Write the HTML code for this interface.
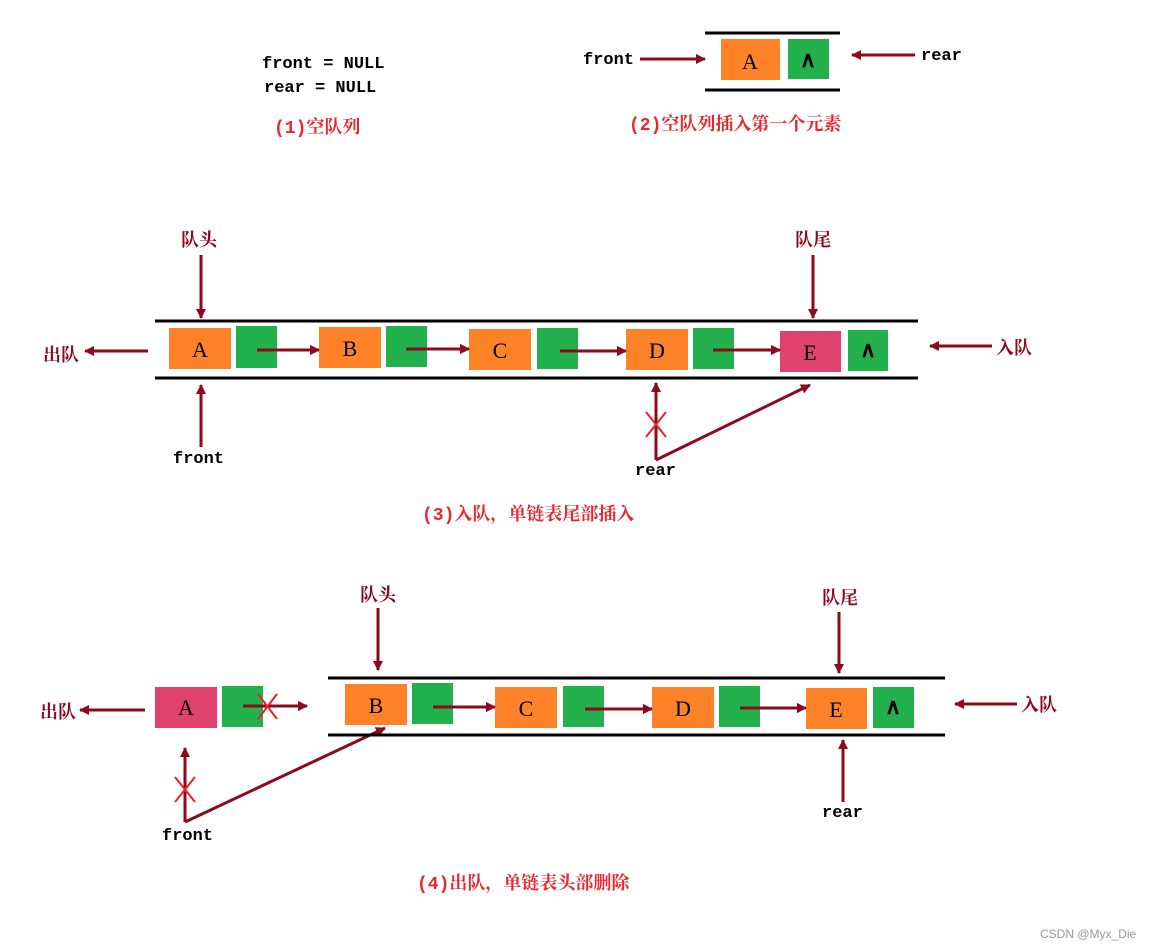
<!DOCTYPE html>
<html><head><meta charset="utf-8"><style>
html,body{margin:0;padding:0;background:#fff}
svg{display:block}
.m{font-family:"Liberation Mono",monospace;font-weight:bold;font-size:17px;fill:#000}
.c{font-family:"Liberation Serif","Noto Serif CJK SC",serif;font-weight:bold;font-size:18px;fill:#8b0a1e}
.cap{font-family:"Liberation Mono","Noto Serif CJK SC",serif;font-weight:bold;font-size:18px;fill:#e8262e}
.L{font-family:"Liberation Serif",serif;font-size:22px;fill:#000;text-anchor:middle}
</style></head><body>
<svg width="1150" height="950" viewBox="0 0 1150 950" xmlns="http://www.w3.org/2000/svg">
<defs>
<marker id="a" markerWidth="10" markerHeight="10" refX="9" refY="5" orient="auto" markerUnits="userSpaceOnUse" viewBox="0 0 10 10">
<path d="M0,0 L10,5 L0,10 z" fill="#8b0a1e"/></marker>
</defs>
<g stroke="#8b0a1e" stroke-width="3" fill="none" marker-end="url(#a)">
<!-- top right -->
<line x1="640" y1="59" x2="705" y2="59" transform=""/>
<line x1="915" y1="55" x2="852" y2="55"/>
<!-- section 3 -->
<line x1="201" y1="255" x2="201" y2="318"/>
<line x1="813" y1="255" x2="813" y2="318"/>
<line x1="148" y1="351" x2="85" y2="351"/>
<line x1="992" y1="346" x2="930" y2="346"/>
<line x1="201" y1="447" x2="201" y2="385"/>
<line x1="656" y1="460" x2="656" y2="383"/>
<line x1="656" y1="460" x2="810" y2="385"/>
<line x1="257" y1="350" x2="319" y2="350"/>
<line x1="406" y1="349" x2="469" y2="349"/>
<line x1="560" y1="351" x2="626" y2="351"/>
<line x1="713" y1="350" x2="780" y2="350"/>
<!-- section 4 -->
<line x1="378" y1="608" x2="378" y2="670"/>
<line x1="839" y1="612" x2="839" y2="673"/>
<line x1="145" y1="710" x2="80" y2="710"/>
<line x1="1017" y1="704" x2="955" y2="704"/>
<line x1="843" y1="802" x2="843" y2="740"/>
<line x1="185" y1="822" x2="185" y2="748"/>
<line x1="185" y1="822" x2="385" y2="728"/>
<line x1="243" y1="706" x2="307" y2="706"/>
<line x1="433" y1="707" x2="495" y2="707"/>
<line x1="585" y1="709" x2="652" y2="709"/>
<line x1="740" y1="708" x2="806" y2="708"/>
</g>
<g stroke="#000" stroke-width="3">
<line x1="705" y1="33" x2="840" y2="33"/><line x1="705" y1="90" x2="840" y2="90"/>
<line x1="155" y1="321" x2="918" y2="321"/><line x1="155" y1="378" x2="918" y2="378"/>
<line x1="328" y1="678" x2="945" y2="678"/><line x1="328" y1="735" x2="945" y2="735"/>
</g>
<!-- boxes -->
<g>
<rect x="721" y="39" width="59" height="41" fill="#fe8228"/><rect x="788" y="39" width="41" height="40" fill="#22b14c"/>
<rect x="169" y="328" width="62" height="41" fill="#fe8228"/><rect x="236" y="326" width="41" height="42" fill="#22b14c"/>
<rect x="319" y="327" width="62" height="41" fill="#fe8228"/><rect x="386" y="326" width="41" height="41" fill="#22b14c"/>
<rect x="469" y="329" width="62" height="41" fill="#fe8228"/><rect x="537" y="328" width="41" height="41" fill="#22b14c"/>
<rect x="626" y="329" width="62" height="41" fill="#fe8228"/><rect x="693" y="328" width="41" height="41" fill="#22b14c"/>
<rect x="780" y="331" width="61" height="41" fill="#e0426f"/><rect x="848" y="330" width="40" height="41" fill="#22b14c"/>
<rect x="155" y="687" width="62" height="41" fill="#e0426f"/><rect x="222" y="686" width="41" height="41" fill="#22b14c"/>
<rect x="345" y="684" width="62" height="41" fill="#fe8228"/><rect x="412" y="683" width="41" height="41" fill="#22b14c"/>
<rect x="495" y="687" width="62" height="41" fill="#fe8228"/><rect x="563" y="686" width="41" height="41" fill="#22b14c"/>
<rect x="652" y="687" width="62" height="41" fill="#fe8228"/><rect x="719" y="686" width="41" height="41" fill="#22b14c"/>
<rect x="806" y="688" width="61" height="41" fill="#fe8228"/><rect x="873" y="687" width="41" height="41" fill="#22b14c"/>
</g>
<!-- re-draw arrows over green boxes -->
<g stroke="#8b0a1e" stroke-width="3" fill="none" marker-end="url(#a)">
<line x1="257" y1="350" x2="319" y2="350"/><line x1="406" y1="349" x2="469" y2="349"/>
<line x1="560" y1="351" x2="626" y2="351"/><line x1="713" y1="350" x2="780" y2="350"/>
<line x1="243" y1="706" x2="307" y2="706"/><line x1="433" y1="707" x2="495" y2="707"/>
<line x1="585" y1="709" x2="652" y2="709"/><line x1="740" y1="708" x2="806" y2="708"/>
</g>
<g stroke="#ee2222" stroke-width="2">
<line x1="646" y1="412" x2="666" y2="437"/><line x1="666" y1="412" x2="646" y2="437"/>
<line x1="175" y1="777" x2="195" y2="802"/><line x1="195" y1="777" x2="175" y2="802"/>
<line x1="258" y1="694" x2="277" y2="719"/><line x1="277" y1="694" x2="258" y2="719"/>
</g>
<g class="L">
<text x="750" y="69">A</text><text x="808" y="67" font-weight="bold">∧</text>
<text x="200" y="357">A</text><text x="350" y="356">B</text><text x="500" y="358">C</text><text x="657" y="358">D</text><text x="810" y="360">E</text><text x="868" y="357" font-weight="bold">∧</text>
<text x="186" y="715">A</text><text x="376" y="713">B</text><text x="526" y="716">C</text><text x="683" y="716">D</text><text x="836" y="717">E</text><text x="893" y="714" font-weight="bold">∧</text>
</g>
<text class="m" x="262" y="68">front = NULL</text>
<text class="m" x="264" y="92">rear = NULL</text>
<text class="cap" x="274" y="133">(1)空队列</text>
<text class="m" x="583" y="64">front</text>
<text class="m" x="921" y="60">rear</text>
<text class="cap" x="629" y="130">(2)空队列插入第一个元素</text>
<text class="c" x="181" y="246">队头</text>
<text class="c" x="795" y="246">队尾</text>
<text class="c" x="43" y="361">出队</text>
<text class="c" x="996" y="354">入队</text>
<text class="m" x="173" y="463">front</text>
<text class="m" x="635" y="475">rear</text>
<text class="cap" x="422" y="520">(3)入队，单链表尾部插入</text>
<text class="c" x="360" y="601">队头</text>
<text class="c" x="822" y="604">队尾</text>
<text class="c" x="40" y="718">出队</text>
<text class="c" x="1021" y="711">入队</text>
<text class="m" x="822" y="817">rear</text>
<text class="m" x="162" y="840">front</text>
<text class="cap" x="417" y="889">(4)出队，单链表头部删除</text>
<text x="1040" y="938" font-family="Liberation Sans,sans-serif" font-size="12" fill="#999">CSDN @Myx_Die</text>
</svg>
</body></html>
